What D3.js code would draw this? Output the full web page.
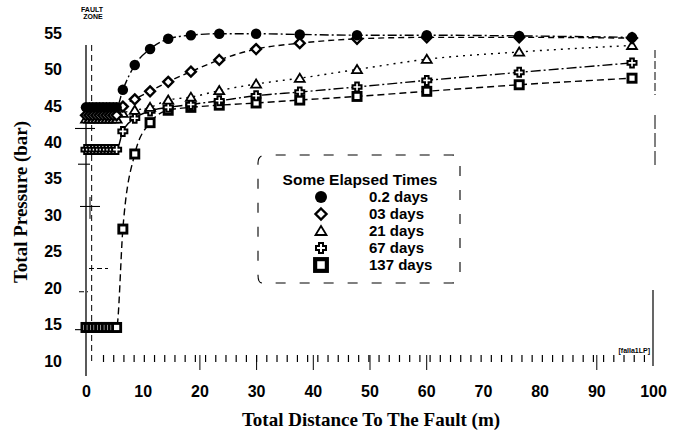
<!DOCTYPE html>
<html><head><meta charset="utf-8">
<script src="https://cdn.jsdelivr.net/npm/d3@7"></script>
<style>body{margin:0;background:#fff}svg{display:block}</style>
</head><body><svg id="c" width="678" height="431"></svg>
<script>
const distances = [0,0.6,1.2,1.8,2.4,3.0,3.6,4.2,4.8,5.4,6.5,8.6,11.3,14.5,18.5,23.5,30,37.7,47.8,60.1,76.4,96.3];
const d02  = [44.8,44.8,44.8,44.8,44.8,44.8,44.8,44.8,44.8,44.8,47.2,50.6,52.8,54.2,54.7,54.9,54.9,54.8,54.7,54.7,54.6,54.4];
const d03  = [43.7,43.7,43.7,43.7,43.7,43.7,43.7,43.7,43.7,43.7,44.9,45.9,47.0,48.3,49.7,51.3,52.8,53.6,54.2,54.4,54.4,54.3];
const d21  = [43.2,43.2,43.2,43.2,43.2,43.2,43.2,43.2,43.2,43.2,44.0,44.4,44.8,45.8,46.2,47.1,48.0,48.8,50.0,51.4,52.4,53.3];
const d67  = [39.0,39.0,39.0,39.0,39.0,39.0,39.0,39.0,39.0,39.0,41.5,43.3,44.3,44.8,45.2,45.7,46.4,46.9,47.6,48.5,49.6,50.9];
const d137 = [14.6,14.6,14.6,14.6,14.6,14.6,14.6,14.6,14.6,14.6,28.1,38.4,42.7,44.4,44.8,45.1,45.4,45.8,46.3,47.0,47.9,48.8];
const seriesNames = ["0.2 days","03 days","21 days","67 days","137 days"];
const seriesValues = [d02,d03,d21,d67,d137];
const xTickLabels = [0,10,20,30,40,50,60,70,80,90,100];
const yTickLabels = [10,15,20,25,30,35,40,45,50,55];

const svg = d3.select("#c");
const x = d3.scaleLinear([0,100],[86,653]);
const y = d3.scaleLinear([10,55],[361,33]);

const shapes = ["circle","diamond","triangle","plus","square"];
const dashes = ["9,3,2,3","6,4","2,5","10,3,2,3","7,4"];

// fault zone lines (decorative scan features)
svg.append("line").attr("x1",x(0)).attr("x2",x(0)).attr("y1",45).attr("y2",376).attr("stroke","#000").attr("stroke-width",1.3);
svg.append("line").attr("x1",x(1)).attr("x2",x(1)).attr("y1",45).attr("y2",362).attr("stroke","#000").attr("stroke-width",1).attr("stroke-dasharray","6,4");
[[41.9,75,95],[37.0,78,90],[31.2,80,100],[14.3,75,90],[22.7,89,108],[19.5,79,88]].forEach(([v,a,b])=>{
  svg.append("line").attr("x1",a).attr("x2",b).attr("y1",y(v)).attr("y2",y(v)).attr("stroke","#000").attr("stroke-width",1.1)
    .attr("stroke-dasharray", v===22.7||v===19.5 ? "5,3" : null);
});
svg.append("line").attr("x1",90).attr("x2",90).attr("y1",y(32.5)).attr("y2",y(29.5)).attr("stroke","#000");

svg.append("text").attr("x",92).attr("y",12).attr("text-anchor","middle").attr("fill","#000").attr("font-family","Arial, Liberation Sans, sans-serif").attr("font-weight","bold").attr("font-size",7).text("FAULT");
svg.append("text").attr("x",93).attr("y",19).attr("text-anchor","middle").attr("fill","#000").attr("font-family","Arial, Liberation Sans, sans-serif").attr("font-weight","bold").attr("font-size",7).text("ZONE");

// right edge mark
svg.append("line").attr("x1",x(100)).attr("x2",x(100)).attr("y1",290).attr("y2",366).attr("stroke","#000").attr("stroke-width",1.2);
svg.append("line").attr("x1",655).attr("x2",655).attr("y1",50).attr("y2",95).attr("stroke","#000").attr("stroke-width",1).attr("stroke-dasharray","8,3");
svg.append("line").attr("x1",655).attr("x2",655).attr("y1",115).attr("y2",165).attr("stroke","#000").attr("stroke-width",1).attr("stroke-dasharray","14,4");

// x axis ticks
const minor = d3.range(3,100,1.8);
const xAxis = d3.axisBottom(x).tickValues(minor).tickSize(7).tickFormat("");
const gx = svg.append("g").attr("transform","translate(0,355)").call(xAxis);
gx.select(".domain").remove();
gx.selectAll("line").attr("stroke","#000").attr("stroke-width",1.2);
const major = d3.axisBottom(x).tickValues([20,30,40,50,60,90]).tickSize(15).tickFormat("");
const gm = svg.append("g").attr("transform","translate(0,355)").call(major);
gm.select(".domain").remove();
gm.selectAll("line").attr("stroke","#000").attr("stroke-width",1);
const xl = d3.axisBottom(x).tickValues(xTickLabels).tickSize(0).tickPadding(0).tickFormat(d=>d);
const gxl = svg.append("g").attr("transform","translate(0,386)").call(xl);
gxl.select(".domain").remove();
gxl.selectAll("text").attr("font-family","Arial, Liberation Sans, sans-serif").attr("font-weight","bold").attr("font-size",16).attr("fill","#000");

// y axis labels
const yl = d3.axisLeft(y).tickValues(yTickLabels).tickSize(0).tickPadding(0).tickFormat(d=>d);
const gyl = svg.append("g").attr("transform","translate(62,0)").call(yl);
gyl.select(".domain").remove();
gyl.selectAll("text").attr("font-family","Arial, Liberation Sans, sans-serif").attr("font-weight","bold").attr("font-size",16).attr("fill","#000");

// titles
svg.append("text").attr("x",371).attr("y",426).attr("text-anchor","middle").attr("fill","#000").attr("font-family","Liberation Serif, Times New Roman, serif").attr("font-weight","bold").attr("font-size",19).text("Total Distance To The Fault (m)");
svg.append("text").attr("transform","translate(27,202) rotate(-90)").attr("text-anchor","middle").attr("fill","#000").attr("font-family","Liberation Serif, Times New Roman, serif").attr("font-weight","bold").attr("font-size",19).text("Total Pressure (bar)");

svg.append("text").attr("x",650).attr("y",353).attr("text-anchor","end").attr("fill","#000").attr("font-family","Arial, Liberation Sans, sans-serif").attr("font-weight","bold").attr("font-size",7).text("[falla1LP]");

// lines
const line = d3.line().x(d=>x(d[0])).y(d=>y(d[1])).curve(d3.curveMonotoneX);
seriesValues.forEach((vals,i)=>{
  svg.append("path").datum(distances.map((d,j)=>[d,vals[j]]))
    .attr("d",line).attr("fill","none").attr("stroke","#000").attr("stroke-width",1.4)
    .attr("stroke-dasharray",dashes[i]);
});

// markers
function drawMarker(g,shape,cx,cy,s){
  if(shape==="circle") g.append("circle").attr("cx",cx).attr("cy",cy).attr("r",s*0.5).attr("fill","#000");
  else if(shape==="diamond") g.append("path").attr("d",`M${cx},${cy-s*0.55}L${cx+s*0.55},${cy}L${cx},${cy+s*0.55}L${cx-s*0.55},${cy}Z`).attr("fill","#fff").attr("stroke","#000").attr("stroke-width",2.4);
  else if(shape==="triangle") g.append("path").attr("d",`M${cx},${cy-s*0.5}L${cx+s*0.55},${cy+s*0.4}L${cx-s*0.55},${cy+s*0.4}Z`).attr("fill","#fff").attr("stroke","#000").attr("stroke-width",1.8);
  else if(shape==="plus"){const a=s*0.2,b=s*0.5;g.append("path").attr("d",`M${cx-a},${cy-b}H${cx+a}V${cy-a}H${cx+b}V${cy+a}H${cx+a}V${cy+b}H${cx-a}V${cy+a}H${cx-b}V${cy-a}H${cx-a}Z`).attr("fill","#fff").attr("stroke","#000").attr("stroke-width",2);}
  else if(shape==="square") g.append("rect").attr("x",cx-s*0.45).attr("y",cy-s*0.45).attr("width",s*0.9).attr("height",s*0.9).attr("fill","#fff").attr("stroke","#000").attr("stroke-width",s*0.32);
}
const order=[4,3,2,1,0];
order.forEach(i=>{
  const g=svg.append("g");
  distances.forEach((d,j)=>drawMarker(g,shapes[i],x(d),y(seriesValues[i][j]),i===0?10.5:9));
});

// legend
const lg = svg.append("g");
lg.append("path").attr("d","M262,283 Q258,283 258,275 L258,163 Q258,155 266,155 L452,155 Q460,155 460,163 L460,275 Q460,283 452,283 Z")
  .attr("fill","none").attr("stroke","#000").attr("stroke-width",1.1).attr("stroke-dasharray","10,14");
lg.append("text").attr("x",360).attr("y",185).attr("text-anchor","middle").attr("fill","#000").attr("font-family","Arial, Liberation Sans, sans-serif").attr("font-weight","bold").attr("font-size",15.5).text("Some Elapsed Times");
seriesNames.forEach((n,i)=>{
  const yy=197+i*17;
  drawMarker(lg,shapes[i],321,yy,i===0?12:i===4?13:10);
  lg.append("text").attr("x",369).attr("y",yy+5).attr("fill","#000").attr("font-family","Arial, Liberation Sans, sans-serif").attr("font-weight","bold").attr("font-size",15).text(n);
});
</script></body></html>
